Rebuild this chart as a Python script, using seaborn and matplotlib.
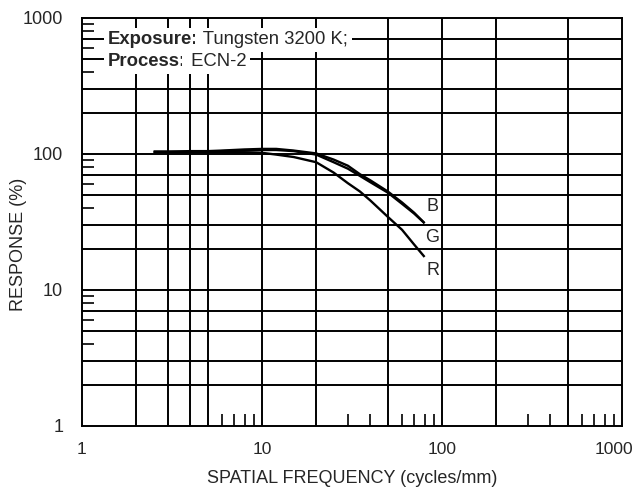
import numpy as np
import pandas as pd
import matplotlib
matplotlib.use("Agg")
import matplotlib.pyplot as plt
import matplotlib.transforms as mtransforms
import seaborn as sns

# ---- data ----
freq = [2.5, 3, 4, 5, 6, 8, 10, 12, 15, 20, 25, 30, 35, 40, 50, 60, 70, 80]
blue = [104, 104, 105, 105, 106, 108, 109, 109, 106, 101, 91, 82, 71, 64, 53, 44, 37, 31]
green = [104, 104, 104, 104, 105, 106, 107, 107, 105, 99, 87, 78, 69, 62, 52, 43, 36.5, 31]
red = [103, 103, 103, 103, 103, 103, 102, 99, 95, 87, 73, 61, 53, 45.5, 34.5, 27.7, 21.6, 17.5]

channel_names = ["B", "G", "R"]
label_x = [88.6, 88.6, 88.6]
label_y = [41.1, 24.5, 13.9]

x_major = [1, 10, 100, 1000]
x_major_labels = ["1", "10", "100", "1000"]
y_major = [1, 10, 100, 1000]
y_major_labels = ["1", "10", "100", "1000"]
x_grid = [2, 3, 4, 5, 10, 20, 50, 100, 200, 500]
y_grid = [2, 3, 5, 7, 10, 20, 30, 50, 70, 100, 200, 300, 500, 700]
x_minor = [6, 7, 8, 9, 30, 40, 60, 70, 80, 90, 300, 400, 600, 700, 800, 900]
y_minor = [4, 6, 8, 9, 40, 60, 80, 90, 400, 600, 800, 900]

note_lines = [("Exposure:", " Tungsten 3200 K;"), ("Process:", " ECN-2")]

# ---- style ----
sns.set_style("white")
plt.rcParams["font.family"] = ["Liberation Sans", "DejaVu Sans"]

df = pd.DataFrame({
    "freq": freq * 3,
    "response": blue + green + red,
    "channel": ["B"] * len(freq) + ["G"] * len(freq) + ["R"] * len(freq),
})

W, H = 637, 493
fig = plt.figure(figsize=(W / 100, H / 100), dpi=100)
ax = fig.add_axes([82 / W, 1 - 426 / H, 540 / W, 408 / H])

ax.set_xscale("log")
ax.set_yscale("log")
ax.set_xlim(1, 1000)
ax.set_ylim(1, 1000)

for xv in x_grid:
    ax.axvline(xv, color="black", lw=1.4, zorder=1)
for yv in y_grid:
    ax.axhline(yv, color="black", lw=1.4, zorder=1)

sns.lineplot(data=df, x="freq", y="response", hue="channel",
             palette={"B": "black", "G": "black", "R": "black"},
             legend=False, lw=1.7, ax=ax, zorder=3, estimator=None)
for line in ax.get_lines():
    line.set_solid_capstyle("butt")

for name, lx, ly in zip(channel_names, label_x, label_y):
    ax.text(lx, ly, name, fontsize=13, ha="center", va="center", zorder=4)

for s in ax.spines.values():
    s.set_color("black")
    s.set_linewidth(1.4)
    s.set_zorder(5)

ax.set_xticks(x_major)
ax.set_xticklabels(x_major_labels)
ax.set_yticks(y_major)
ax.set_yticklabels(y_major_labels)
ax.set_xticks(x_minor, minor=True)
ax.set_yticks(y_minor, minor=True)
ax.xaxis.set_minor_formatter(matplotlib.ticker.NullFormatter())
ax.yaxis.set_minor_formatter(matplotlib.ticker.NullFormatter())
ax.tick_params(axis="x", which="major", length=0, pad=11.5, labelsize=12.5)
ax.tick_params(axis="y", which="major", length=0, pad=13.5, labelsize=13)
ax.tick_params(which="minor", direction="in", length=8.5, width=1.2, color="black")
ax.tick_params(axis="x", which="minor", bottom=True, top=False)
ax.tick_params(axis="y", which="minor", left=True, right=False)

# the last x label sits a little left so it fits in the figure
last = ax.get_xticklabels()[-1]
last.set_transform(last.get_transform() + mtransforms.ScaledTranslation(-8 / 100, 0, fig.dpi_scale_trans))

ax.set_xlabel("SPATIAL FREQUENCY (cycles/mm)", fontsize=13)
ax.set_ylabel("RESPONSE (%)", fontsize=13)
ax.xaxis.set_label_coords(0.5, -0.108)
ax.yaxis.set_label_coords(-0.102, 0.446)
ax.grid(False)

# annotation block
ys = [(426 - 40) / 408, (426 - 61.7) / 408]
for (bold, rest), yy in zip(note_lines, ys):
    t = ax.text((108 - 82) / 540, yy, bold, transform=ax.transAxes, fontsize=13.3,
                fontweight="bold", ha="left", va="center", zorder=6,
                bbox=dict(facecolor="white", edgecolor="none", boxstyle="square,pad=0.2"))
    ax.annotate(rest, xy=(1, 0.5), xycoords=t, ha="left", va="center", fontsize=13.3,
                zorder=6,
                bbox=dict(facecolor="white", edgecolor="none", boxstyle="square,pad=0.2"))

fig.savefig("out.png", dpi=100)
